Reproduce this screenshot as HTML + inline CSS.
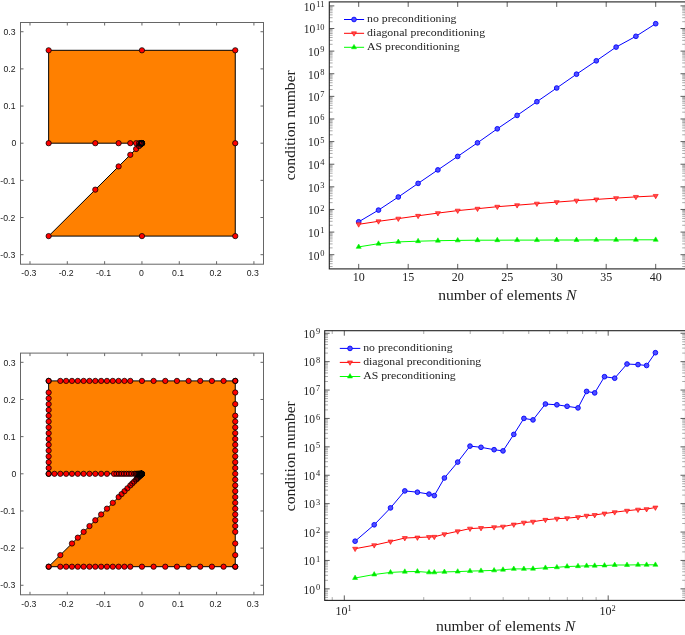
<!DOCTYPE html>
<html><head><meta charset="utf-8"><style>
html,body{margin:0;padding:0;background:#fff;overflow:hidden;}
svg{display:block;will-change:transform;}
.ls{font-family:"Liberation Sans",sans-serif;font-size:8.3px;fill:#1a1a1a;}
.tk{font-family:"Liberation Serif",serif;font-size:12px;fill:#222;}
.lg{font-family:"Liberation Serif",serif;font-size:10.9px;fill:#222;}
.lb{font-family:"Liberation Serif",serif;font-size:14.2px;fill:#222;}
.mf{fill:#ff0000;stroke:none;}
.ms{fill:none;stroke:#000;stroke-width:0.75;}
</style></head><body>
<svg width="685" height="635" viewBox="0 0 685 635">
<g>
<polygon points="48.65,50.3 235.25,50.3 235.25,236.1 48.65,236.1 141.95,143.2 48.65,143.2" fill="#ff8000" stroke="#000" stroke-width="1" stroke-linejoin="miter"/>
<circle class="mf" cx="48.65" cy="50.3" r="2.65"/>
<circle class="mf" cx="48.65" cy="143.2" r="2.65"/>
<circle class="mf" cx="95.3" cy="143.2" r="2.65"/>
<circle class="mf" cx="118.62" cy="143.2" r="2.65"/>
<circle class="mf" cx="130.29" cy="143.2" r="2.65"/>
<circle class="mf" cx="136.12" cy="143.2" r="2.65"/>
<circle class="mf" cx="139.03" cy="143.2" r="2.65"/>
<circle class="mf" cx="140.49" cy="143.2" r="2.65"/>
<circle class="mf" cx="141.22" cy="143.2" r="2.65"/>
<circle class="mf" cx="141.59" cy="143.2" r="2.65"/>
<circle class="mf" cx="141.77" cy="143.2" r="2.65"/>
<circle class="mf" cx="141.86" cy="143.2" r="2.65"/>
<circle class="mf" cx="141.9" cy="143.2" r="2.65"/>
<circle class="mf" cx="141.93" cy="143.2" r="2.65"/>
<circle class="mf" cx="141.94" cy="143.2" r="2.65"/>
<circle class="mf" cx="141.95" cy="143.2" r="2.65"/>
<circle class="mf" cx="141.94" cy="143.21" r="2.65"/>
<circle class="mf" cx="141.93" cy="143.22" r="2.65"/>
<circle class="mf" cx="141.9" cy="143.25" r="2.65"/>
<circle class="mf" cx="141.86" cy="143.29" r="2.65"/>
<circle class="mf" cx="141.77" cy="143.38" r="2.65"/>
<circle class="mf" cx="141.59" cy="143.56" r="2.65"/>
<circle class="mf" cx="141.22" cy="143.93" r="2.65"/>
<circle class="mf" cx="140.49" cy="144.65" r="2.65"/>
<circle class="mf" cx="139.03" cy="146.1" r="2.65"/>
<circle class="mf" cx="136.12" cy="149.01" r="2.65"/>
<circle class="mf" cx="130.29" cy="154.81" r="2.65"/>
<circle class="mf" cx="118.62" cy="166.42" r="2.65"/>
<circle class="mf" cx="95.3" cy="189.65" r="2.65"/>
<circle class="mf" cx="48.65" cy="236.1" r="2.65"/>
<circle class="mf" cx="141.95" cy="236.1" r="2.65"/>
<circle class="mf" cx="235.25" cy="236.1" r="2.65"/>
<circle class="mf" cx="235.25" cy="143.2" r="2.65"/>
<circle class="mf" cx="235.25" cy="50.3" r="2.65"/>
<circle class="mf" cx="141.95" cy="50.3" r="2.65"/>
<circle class="ms" cx="48.65" cy="50.3" r="2.65"/>
<circle class="ms" cx="48.65" cy="143.2" r="2.65"/>
<circle class="ms" cx="95.3" cy="143.2" r="2.65"/>
<circle class="ms" cx="118.62" cy="143.2" r="2.65"/>
<circle class="ms" cx="130.29" cy="143.2" r="2.65"/>
<circle class="ms" cx="136.12" cy="143.2" r="2.65"/>
<circle class="ms" cx="139.03" cy="143.2" r="2.65"/>
<circle class="ms" cx="140.49" cy="143.2" r="2.65"/>
<circle class="ms" cx="141.22" cy="143.2" r="2.65"/>
<circle class="ms" cx="141.59" cy="143.2" r="2.65"/>
<circle class="ms" cx="141.77" cy="143.2" r="2.65"/>
<circle class="ms" cx="141.86" cy="143.2" r="2.65"/>
<circle class="ms" cx="141.9" cy="143.2" r="2.65"/>
<circle class="ms" cx="141.93" cy="143.2" r="2.65"/>
<circle class="ms" cx="141.94" cy="143.2" r="2.65"/>
<circle class="ms" cx="141.95" cy="143.2" r="2.65"/>
<circle class="ms" cx="141.94" cy="143.21" r="2.65"/>
<circle class="ms" cx="141.93" cy="143.22" r="2.65"/>
<circle class="ms" cx="141.9" cy="143.25" r="2.65"/>
<circle class="ms" cx="141.86" cy="143.29" r="2.65"/>
<circle class="ms" cx="141.77" cy="143.38" r="2.65"/>
<circle class="ms" cx="141.59" cy="143.56" r="2.65"/>
<circle class="ms" cx="141.22" cy="143.93" r="2.65"/>
<circle class="ms" cx="140.49" cy="144.65" r="2.65"/>
<circle class="ms" cx="139.03" cy="146.1" r="2.65"/>
<circle class="ms" cx="136.12" cy="149.01" r="2.65"/>
<circle class="ms" cx="130.29" cy="154.81" r="2.65"/>
<circle class="ms" cx="118.62" cy="166.42" r="2.65"/>
<circle class="ms" cx="95.3" cy="189.65" r="2.65"/>
<circle class="ms" cx="48.65" cy="236.1" r="2.65"/>
<circle class="ms" cx="141.95" cy="236.1" r="2.65"/>
<circle class="ms" cx="235.25" cy="236.1" r="2.65"/>
<circle class="ms" cx="235.25" cy="143.2" r="2.65"/>
<circle class="ms" cx="235.25" cy="50.3" r="2.65"/>
<circle class="ms" cx="141.95" cy="50.3" r="2.65"/>
<rect x="20.5" y="22.5" width="243.0" height="241.7" fill="none" stroke="#666" stroke-width="1"/>
<path d="M29.99,264.2v-3M29.99,22.5v3M20.5,254.68h3M263.5,254.68h-3M67.31,264.2v-3M67.31,22.5v3M20.5,217.52h3M263.5,217.52h-3M104.63,264.2v-3M104.63,22.5v3M20.5,180.36h3M263.5,180.36h-3M141.95,264.2v-3M141.95,22.5v3M20.5,143.2h3M263.5,143.2h-3M179.27,264.2v-3M179.27,22.5v3M20.5,106.04h3M263.5,106.04h-3M216.59,264.2v-3M216.59,22.5v3M20.5,68.88h3M263.5,68.88h-3M253.91,264.2v-3M253.91,22.5v3M20.5,31.72h3M263.5,31.72h-3" stroke="#666" stroke-width="1" fill="none"/>
<text x="28.89" y="276.3" text-anchor="middle" class="ls" textLength="15.02" lengthAdjust="spacingAndGlyphs">-0.3</text>
<text x="15.3" y="257.88" text-anchor="end" class="ls" textLength="15.02" lengthAdjust="spacingAndGlyphs">-0.3</text>
<text x="66.21" y="276.3" text-anchor="middle" class="ls" textLength="15.02" lengthAdjust="spacingAndGlyphs">-0.2</text>
<text x="15.3" y="220.72" text-anchor="end" class="ls" textLength="15.02" lengthAdjust="spacingAndGlyphs">-0.2</text>
<text x="103.53" y="276.3" text-anchor="middle" class="ls" textLength="15.02" lengthAdjust="spacingAndGlyphs">-0.1</text>
<text x="15.3" y="183.56" text-anchor="end" class="ls" textLength="15.02" lengthAdjust="spacingAndGlyphs">-0.1</text>
<text x="141.5" y="276.3" text-anchor="middle" class="ls" textLength="4.85" lengthAdjust="spacingAndGlyphs">0</text>
<text x="16.4" y="146.4" text-anchor="end" class="ls" textLength="4.85" lengthAdjust="spacingAndGlyphs">0</text>
<text x="178.17" y="276.3" text-anchor="middle" class="ls" textLength="12.11" lengthAdjust="spacingAndGlyphs">0.1</text>
<text x="15.6" y="109.24" text-anchor="end" class="ls" textLength="12.11" lengthAdjust="spacingAndGlyphs">0.1</text>
<text x="215.49" y="276.3" text-anchor="middle" class="ls" textLength="12.11" lengthAdjust="spacingAndGlyphs">0.2</text>
<text x="15.6" y="72.08" text-anchor="end" class="ls" textLength="12.11" lengthAdjust="spacingAndGlyphs">0.2</text>
<text x="252.81" y="276.3" text-anchor="middle" class="ls" textLength="12.11" lengthAdjust="spacingAndGlyphs">0.3</text>
<text x="15.6" y="34.92" text-anchor="end" class="ls" textLength="12.11" lengthAdjust="spacingAndGlyphs">0.3</text>
<polygon points="48.65,380.9 235.25,380.9 235.25,566.7 48.65,566.7 141.95,473.8 48.65,473.8" fill="#ff8000" stroke="#000" stroke-width="1" stroke-linejoin="miter"/>
<circle class="mf" cx="48.65" cy="380.9" r="2.65"/>
<circle class="mf" cx="48.65" cy="392.51" r="2.65"/>
<circle class="mf" cx="48.65" cy="398.32" r="2.65"/>
<circle class="mf" cx="48.65" cy="404.12" r="2.65"/>
<circle class="mf" cx="48.65" cy="409.93" r="2.65"/>
<circle class="mf" cx="48.65" cy="415.74" r="2.65"/>
<circle class="mf" cx="48.65" cy="421.54" r="2.65"/>
<circle class="mf" cx="48.65" cy="427.35" r="2.65"/>
<circle class="mf" cx="48.65" cy="433.16" r="2.65"/>
<circle class="mf" cx="48.65" cy="438.96" r="2.65"/>
<circle class="mf" cx="48.65" cy="444.77" r="2.65"/>
<circle class="mf" cx="48.65" cy="450.57" r="2.65"/>
<circle class="mf" cx="48.65" cy="456.38" r="2.65"/>
<circle class="mf" cx="48.65" cy="462.19" r="2.65"/>
<circle class="mf" cx="48.65" cy="467.99" r="2.65"/>
<circle class="mf" cx="48.65" cy="473.8" r="2.65"/>
<circle class="mf" cx="48.65" cy="473.8" r="2.65"/>
<circle class="mf" cx="54.48" cy="473.8" r="2.65"/>
<circle class="mf" cx="60.31" cy="473.8" r="2.65"/>
<circle class="mf" cx="66.14" cy="473.8" r="2.65"/>
<circle class="mf" cx="71.97" cy="473.8" r="2.65"/>
<circle class="mf" cx="77.81" cy="473.8" r="2.65"/>
<circle class="mf" cx="83.64" cy="473.8" r="2.65"/>
<circle class="mf" cx="89.47" cy="473.8" r="2.65"/>
<circle class="mf" cx="95.3" cy="473.8" r="2.65"/>
<circle class="mf" cx="101.13" cy="473.8" r="2.65"/>
<circle class="mf" cx="106.96" cy="473.8" r="2.65"/>
<circle class="mf" cx="114" cy="473.8" r="2.65"/>
<circle class="mf" cx="116.5" cy="473.8" r="2.65"/>
<circle class="mf" cx="119" cy="473.8" r="2.65"/>
<circle class="mf" cx="121.5" cy="473.8" r="2.65"/>
<circle class="mf" cx="124" cy="473.8" r="2.65"/>
<circle class="mf" cx="126.5" cy="473.8" r="2.65"/>
<circle class="mf" cx="129" cy="473.8" r="2.65"/>
<circle class="mf" cx="131.5" cy="473.8" r="2.65"/>
<circle class="mf" cx="134.49" cy="473.8" r="2.65"/>
<circle class="mf" cx="135.98" cy="473.8" r="2.65"/>
<circle class="mf" cx="137.17" cy="473.8" r="2.65"/>
<circle class="mf" cx="138.13" cy="473.8" r="2.65"/>
<circle class="mf" cx="138.89" cy="473.8" r="2.65"/>
<circle class="mf" cx="139.5" cy="473.8" r="2.65"/>
<circle class="mf" cx="139.99" cy="473.8" r="2.65"/>
<circle class="mf" cx="140.38" cy="473.8" r="2.65"/>
<circle class="mf" cx="140.7" cy="473.8" r="2.65"/>
<circle class="mf" cx="140.95" cy="473.8" r="2.65"/>
<circle class="mf" cx="141.15" cy="473.8" r="2.65"/>
<circle class="mf" cx="141.31" cy="473.8" r="2.65"/>
<circle class="mf" cx="141.44" cy="473.8" r="2.65"/>
<circle class="mf" cx="141.54" cy="473.8" r="2.65"/>
<circle class="mf" cx="141.62" cy="473.8" r="2.65"/>
<circle class="mf" cx="141.69" cy="473.8" r="2.65"/>
<circle class="mf" cx="141.74" cy="473.8" r="2.65"/>
<circle class="mf" cx="141.78" cy="473.8" r="2.65"/>
<circle class="mf" cx="141.82" cy="473.8" r="2.65"/>
<circle class="mf" cx="141.95" cy="473.8" r="2.65"/>
<circle class="mf" cx="48.65" cy="566.7" r="2.65"/>
<circle class="mf" cx="60.31" cy="555.09" r="2.65"/>
<circle class="mf" cx="71.97" cy="543.48" r="2.65"/>
<circle class="mf" cx="77.81" cy="537.67" r="2.65"/>
<circle class="mf" cx="83.64" cy="531.86" r="2.65"/>
<circle class="mf" cx="89.47" cy="526.06" r="2.65"/>
<circle class="mf" cx="95.3" cy="520.25" r="2.65"/>
<circle class="mf" cx="101.13" cy="514.44" r="2.65"/>
<circle class="mf" cx="106.96" cy="508.64" r="2.65"/>
<circle class="mf" cx="112.79" cy="502.83" r="2.65"/>
<circle class="mf" cx="118.62" cy="497.03" r="2.65"/>
<circle class="mf" cx="121.54" cy="494.12" r="2.65"/>
<circle class="mf" cx="124.46" cy="491.22" r="2.65"/>
<circle class="mf" cx="127.37" cy="488.32" r="2.65"/>
<circle class="mf" cx="130.29" cy="485.41" r="2.65"/>
<circle class="mf" cx="132.25" cy="483.46" r="2.65"/>
<circle class="mf" cx="134.19" cy="481.53" r="2.65"/>
<circle class="mf" cx="136.13" cy="479.6" r="2.65"/>
<circle class="mf" cx="136.98" cy="478.75" r="2.65"/>
<circle class="mf" cx="137.97" cy="477.76" r="2.65"/>
<circle class="mf" cx="138.77" cy="476.97" r="2.65"/>
<circle class="mf" cx="139.4" cy="476.33" r="2.65"/>
<circle class="mf" cx="139.91" cy="475.83" r="2.65"/>
<circle class="mf" cx="140.32" cy="475.42" r="2.65"/>
<circle class="mf" cx="140.65" cy="475.1" r="2.65"/>
<circle class="mf" cx="140.91" cy="474.84" r="2.65"/>
<circle class="mf" cx="141.12" cy="474.63" r="2.65"/>
<circle class="mf" cx="141.28" cy="474.46" r="2.65"/>
<circle class="mf" cx="141.42" cy="474.33" r="2.65"/>
<circle class="mf" cx="141.52" cy="474.23" r="2.65"/>
<circle class="mf" cx="141.61" cy="474.14" r="2.65"/>
<circle class="mf" cx="141.68" cy="474.07" r="2.65"/>
<circle class="mf" cx="141.73" cy="474.02" r="2.65"/>
<circle class="mf" cx="141.78" cy="473.97" r="2.65"/>
<circle class="mf" cx="141.81" cy="473.94" r="2.65"/>
<circle class="mf" cx="141.84" cy="473.91" r="2.65"/>
<circle class="mf" cx="48.65" cy="566.7" r="2.65"/>
<circle class="mf" cx="60.31" cy="566.7" r="2.65"/>
<circle class="mf" cx="66.14" cy="566.7" r="2.65"/>
<circle class="mf" cx="71.97" cy="566.7" r="2.65"/>
<circle class="mf" cx="77.81" cy="566.7" r="2.65"/>
<circle class="mf" cx="83.64" cy="566.7" r="2.65"/>
<circle class="mf" cx="89.47" cy="566.7" r="2.65"/>
<circle class="mf" cx="95.3" cy="566.7" r="2.65"/>
<circle class="mf" cx="101.13" cy="566.7" r="2.65"/>
<circle class="mf" cx="106.96" cy="566.7" r="2.65"/>
<circle class="mf" cx="112.79" cy="566.7" r="2.65"/>
<circle class="mf" cx="118.62" cy="566.7" r="2.65"/>
<circle class="mf" cx="124.46" cy="566.7" r="2.65"/>
<circle class="mf" cx="130.29" cy="566.7" r="2.65"/>
<circle class="mf" cx="141.95" cy="566.7" r="2.65"/>
<circle class="mf" cx="153.61" cy="566.7" r="2.65"/>
<circle class="mf" cx="165.27" cy="566.7" r="2.65"/>
<circle class="mf" cx="176.94" cy="566.7" r="2.65"/>
<circle class="mf" cx="188.6" cy="566.7" r="2.65"/>
<circle class="mf" cx="200.26" cy="566.7" r="2.65"/>
<circle class="mf" cx="211.92" cy="566.7" r="2.65"/>
<circle class="mf" cx="223.59" cy="566.7" r="2.65"/>
<circle class="mf" cx="235.25" cy="566.7" r="2.65"/>
<circle class="mf" cx="235.25" cy="566.7" r="2.65"/>
<circle class="mf" cx="235.25" cy="555.09" r="2.65"/>
<circle class="mf" cx="235.25" cy="543.48" r="2.65"/>
<circle class="mf" cx="235.25" cy="531.86" r="2.65"/>
<circle class="mf" cx="235.25" cy="526.06" r="2.65"/>
<circle class="mf" cx="235.25" cy="520.25" r="2.65"/>
<circle class="mf" cx="235.25" cy="514.44" r="2.65"/>
<circle class="mf" cx="235.25" cy="508.64" r="2.65"/>
<circle class="mf" cx="235.25" cy="502.83" r="2.65"/>
<circle class="mf" cx="235.25" cy="497.03" r="2.65"/>
<circle class="mf" cx="235.25" cy="491.22" r="2.65"/>
<circle class="mf" cx="235.25" cy="485.41" r="2.65"/>
<circle class="mf" cx="235.25" cy="479.61" r="2.65"/>
<circle class="mf" cx="235.25" cy="473.8" r="2.65"/>
<circle class="mf" cx="235.25" cy="467.99" r="2.65"/>
<circle class="mf" cx="235.25" cy="462.19" r="2.65"/>
<circle class="mf" cx="235.25" cy="456.38" r="2.65"/>
<circle class="mf" cx="235.25" cy="450.57" r="2.65"/>
<circle class="mf" cx="235.25" cy="444.77" r="2.65"/>
<circle class="mf" cx="235.25" cy="438.96" r="2.65"/>
<circle class="mf" cx="235.25" cy="433.16" r="2.65"/>
<circle class="mf" cx="235.25" cy="427.35" r="2.65"/>
<circle class="mf" cx="235.25" cy="421.54" r="2.65"/>
<circle class="mf" cx="235.25" cy="415.74" r="2.65"/>
<circle class="mf" cx="235.25" cy="404.12" r="2.65"/>
<circle class="mf" cx="235.25" cy="392.51" r="2.65"/>
<circle class="mf" cx="235.25" cy="380.9" r="2.65"/>
<circle class="mf" cx="235.25" cy="380.9" r="2.65"/>
<circle class="mf" cx="223.59" cy="380.9" r="2.65"/>
<circle class="mf" cx="211.92" cy="380.9" r="2.65"/>
<circle class="mf" cx="200.26" cy="380.9" r="2.65"/>
<circle class="mf" cx="188.6" cy="380.9" r="2.65"/>
<circle class="mf" cx="176.94" cy="380.9" r="2.65"/>
<circle class="mf" cx="165.27" cy="380.9" r="2.65"/>
<circle class="mf" cx="153.61" cy="380.9" r="2.65"/>
<circle class="mf" cx="141.95" cy="380.9" r="2.65"/>
<circle class="mf" cx="130.29" cy="380.9" r="2.65"/>
<circle class="mf" cx="124.46" cy="380.9" r="2.65"/>
<circle class="mf" cx="118.62" cy="380.9" r="2.65"/>
<circle class="mf" cx="112.79" cy="380.9" r="2.65"/>
<circle class="mf" cx="106.96" cy="380.9" r="2.65"/>
<circle class="mf" cx="101.13" cy="380.9" r="2.65"/>
<circle class="mf" cx="95.3" cy="380.9" r="2.65"/>
<circle class="mf" cx="89.47" cy="380.9" r="2.65"/>
<circle class="mf" cx="83.64" cy="380.9" r="2.65"/>
<circle class="mf" cx="77.81" cy="380.9" r="2.65"/>
<circle class="mf" cx="71.97" cy="380.9" r="2.65"/>
<circle class="mf" cx="66.14" cy="380.9" r="2.65"/>
<circle class="mf" cx="60.31" cy="380.9" r="2.65"/>
<circle class="mf" cx="48.65" cy="380.9" r="2.65"/>
<circle class="ms" cx="48.65" cy="380.9" r="2.65"/>
<circle class="ms" cx="48.65" cy="392.51" r="2.65"/>
<circle class="ms" cx="48.65" cy="398.32" r="2.65"/>
<circle class="ms" cx="48.65" cy="404.12" r="2.65"/>
<circle class="ms" cx="48.65" cy="409.93" r="2.65"/>
<circle class="ms" cx="48.65" cy="415.74" r="2.65"/>
<circle class="ms" cx="48.65" cy="421.54" r="2.65"/>
<circle class="ms" cx="48.65" cy="427.35" r="2.65"/>
<circle class="ms" cx="48.65" cy="433.16" r="2.65"/>
<circle class="ms" cx="48.65" cy="438.96" r="2.65"/>
<circle class="ms" cx="48.65" cy="444.77" r="2.65"/>
<circle class="ms" cx="48.65" cy="450.57" r="2.65"/>
<circle class="ms" cx="48.65" cy="456.38" r="2.65"/>
<circle class="ms" cx="48.65" cy="462.19" r="2.65"/>
<circle class="ms" cx="48.65" cy="467.99" r="2.65"/>
<circle class="ms" cx="48.65" cy="473.8" r="2.65"/>
<circle class="ms" cx="48.65" cy="473.8" r="2.65"/>
<circle class="ms" cx="54.48" cy="473.8" r="2.65"/>
<circle class="ms" cx="60.31" cy="473.8" r="2.65"/>
<circle class="ms" cx="66.14" cy="473.8" r="2.65"/>
<circle class="ms" cx="71.97" cy="473.8" r="2.65"/>
<circle class="ms" cx="77.81" cy="473.8" r="2.65"/>
<circle class="ms" cx="83.64" cy="473.8" r="2.65"/>
<circle class="ms" cx="89.47" cy="473.8" r="2.65"/>
<circle class="ms" cx="95.3" cy="473.8" r="2.65"/>
<circle class="ms" cx="101.13" cy="473.8" r="2.65"/>
<circle class="ms" cx="106.96" cy="473.8" r="2.65"/>
<circle class="ms" cx="114" cy="473.8" r="2.65"/>
<circle class="ms" cx="116.5" cy="473.8" r="2.65"/>
<circle class="ms" cx="119" cy="473.8" r="2.65"/>
<circle class="ms" cx="121.5" cy="473.8" r="2.65"/>
<circle class="ms" cx="124" cy="473.8" r="2.65"/>
<circle class="ms" cx="126.5" cy="473.8" r="2.65"/>
<circle class="ms" cx="129" cy="473.8" r="2.65"/>
<circle class="ms" cx="131.5" cy="473.8" r="2.65"/>
<circle class="ms" cx="134.49" cy="473.8" r="2.65"/>
<circle class="ms" cx="135.98" cy="473.8" r="2.65"/>
<circle class="ms" cx="137.17" cy="473.8" r="2.65"/>
<circle class="ms" cx="138.13" cy="473.8" r="2.65"/>
<circle class="ms" cx="138.89" cy="473.8" r="2.65"/>
<circle class="ms" cx="139.5" cy="473.8" r="2.65"/>
<circle class="ms" cx="139.99" cy="473.8" r="2.65"/>
<circle class="ms" cx="140.38" cy="473.8" r="2.65"/>
<circle class="ms" cx="140.7" cy="473.8" r="2.65"/>
<circle class="ms" cx="140.95" cy="473.8" r="2.65"/>
<circle class="ms" cx="141.15" cy="473.8" r="2.65"/>
<circle class="ms" cx="141.31" cy="473.8" r="2.65"/>
<circle class="ms" cx="141.44" cy="473.8" r="2.65"/>
<circle class="ms" cx="141.54" cy="473.8" r="2.65"/>
<circle class="ms" cx="141.62" cy="473.8" r="2.65"/>
<circle class="ms" cx="141.69" cy="473.8" r="2.65"/>
<circle class="ms" cx="141.74" cy="473.8" r="2.65"/>
<circle class="ms" cx="141.78" cy="473.8" r="2.65"/>
<circle class="ms" cx="141.82" cy="473.8" r="2.65"/>
<circle class="ms" cx="141.95" cy="473.8" r="2.65"/>
<circle class="ms" cx="48.65" cy="566.7" r="2.65"/>
<circle class="ms" cx="60.31" cy="555.09" r="2.65"/>
<circle class="ms" cx="71.97" cy="543.48" r="2.65"/>
<circle class="ms" cx="77.81" cy="537.67" r="2.65"/>
<circle class="ms" cx="83.64" cy="531.86" r="2.65"/>
<circle class="ms" cx="89.47" cy="526.06" r="2.65"/>
<circle class="ms" cx="95.3" cy="520.25" r="2.65"/>
<circle class="ms" cx="101.13" cy="514.44" r="2.65"/>
<circle class="ms" cx="106.96" cy="508.64" r="2.65"/>
<circle class="ms" cx="112.79" cy="502.83" r="2.65"/>
<circle class="ms" cx="118.62" cy="497.03" r="2.65"/>
<circle class="ms" cx="121.54" cy="494.12" r="2.65"/>
<circle class="ms" cx="124.46" cy="491.22" r="2.65"/>
<circle class="ms" cx="127.37" cy="488.32" r="2.65"/>
<circle class="ms" cx="130.29" cy="485.41" r="2.65"/>
<circle class="ms" cx="132.25" cy="483.46" r="2.65"/>
<circle class="ms" cx="134.19" cy="481.53" r="2.65"/>
<circle class="ms" cx="136.13" cy="479.6" r="2.65"/>
<circle class="ms" cx="136.98" cy="478.75" r="2.65"/>
<circle class="ms" cx="137.97" cy="477.76" r="2.65"/>
<circle class="ms" cx="138.77" cy="476.97" r="2.65"/>
<circle class="ms" cx="139.4" cy="476.33" r="2.65"/>
<circle class="ms" cx="139.91" cy="475.83" r="2.65"/>
<circle class="ms" cx="140.32" cy="475.42" r="2.65"/>
<circle class="ms" cx="140.65" cy="475.1" r="2.65"/>
<circle class="ms" cx="140.91" cy="474.84" r="2.65"/>
<circle class="ms" cx="141.12" cy="474.63" r="2.65"/>
<circle class="ms" cx="141.28" cy="474.46" r="2.65"/>
<circle class="ms" cx="141.42" cy="474.33" r="2.65"/>
<circle class="ms" cx="141.52" cy="474.23" r="2.65"/>
<circle class="ms" cx="141.61" cy="474.14" r="2.65"/>
<circle class="ms" cx="141.68" cy="474.07" r="2.65"/>
<circle class="ms" cx="141.73" cy="474.02" r="2.65"/>
<circle class="ms" cx="141.78" cy="473.97" r="2.65"/>
<circle class="ms" cx="141.81" cy="473.94" r="2.65"/>
<circle class="ms" cx="141.84" cy="473.91" r="2.65"/>
<circle class="ms" cx="48.65" cy="566.7" r="2.65"/>
<circle class="ms" cx="60.31" cy="566.7" r="2.65"/>
<circle class="ms" cx="66.14" cy="566.7" r="2.65"/>
<circle class="ms" cx="71.97" cy="566.7" r="2.65"/>
<circle class="ms" cx="77.81" cy="566.7" r="2.65"/>
<circle class="ms" cx="83.64" cy="566.7" r="2.65"/>
<circle class="ms" cx="89.47" cy="566.7" r="2.65"/>
<circle class="ms" cx="95.3" cy="566.7" r="2.65"/>
<circle class="ms" cx="101.13" cy="566.7" r="2.65"/>
<circle class="ms" cx="106.96" cy="566.7" r="2.65"/>
<circle class="ms" cx="112.79" cy="566.7" r="2.65"/>
<circle class="ms" cx="118.62" cy="566.7" r="2.65"/>
<circle class="ms" cx="124.46" cy="566.7" r="2.65"/>
<circle class="ms" cx="130.29" cy="566.7" r="2.65"/>
<circle class="ms" cx="141.95" cy="566.7" r="2.65"/>
<circle class="ms" cx="153.61" cy="566.7" r="2.65"/>
<circle class="ms" cx="165.27" cy="566.7" r="2.65"/>
<circle class="ms" cx="176.94" cy="566.7" r="2.65"/>
<circle class="ms" cx="188.6" cy="566.7" r="2.65"/>
<circle class="ms" cx="200.26" cy="566.7" r="2.65"/>
<circle class="ms" cx="211.92" cy="566.7" r="2.65"/>
<circle class="ms" cx="223.59" cy="566.7" r="2.65"/>
<circle class="ms" cx="235.25" cy="566.7" r="2.65"/>
<circle class="ms" cx="235.25" cy="566.7" r="2.65"/>
<circle class="ms" cx="235.25" cy="555.09" r="2.65"/>
<circle class="ms" cx="235.25" cy="543.48" r="2.65"/>
<circle class="ms" cx="235.25" cy="531.86" r="2.65"/>
<circle class="ms" cx="235.25" cy="526.06" r="2.65"/>
<circle class="ms" cx="235.25" cy="520.25" r="2.65"/>
<circle class="ms" cx="235.25" cy="514.44" r="2.65"/>
<circle class="ms" cx="235.25" cy="508.64" r="2.65"/>
<circle class="ms" cx="235.25" cy="502.83" r="2.65"/>
<circle class="ms" cx="235.25" cy="497.03" r="2.65"/>
<circle class="ms" cx="235.25" cy="491.22" r="2.65"/>
<circle class="ms" cx="235.25" cy="485.41" r="2.65"/>
<circle class="ms" cx="235.25" cy="479.61" r="2.65"/>
<circle class="ms" cx="235.25" cy="473.8" r="2.65"/>
<circle class="ms" cx="235.25" cy="467.99" r="2.65"/>
<circle class="ms" cx="235.25" cy="462.19" r="2.65"/>
<circle class="ms" cx="235.25" cy="456.38" r="2.65"/>
<circle class="ms" cx="235.25" cy="450.57" r="2.65"/>
<circle class="ms" cx="235.25" cy="444.77" r="2.65"/>
<circle class="ms" cx="235.25" cy="438.96" r="2.65"/>
<circle class="ms" cx="235.25" cy="433.16" r="2.65"/>
<circle class="ms" cx="235.25" cy="427.35" r="2.65"/>
<circle class="ms" cx="235.25" cy="421.54" r="2.65"/>
<circle class="ms" cx="235.25" cy="415.74" r="2.65"/>
<circle class="ms" cx="235.25" cy="404.12" r="2.65"/>
<circle class="ms" cx="235.25" cy="392.51" r="2.65"/>
<circle class="ms" cx="235.25" cy="380.9" r="2.65"/>
<circle class="ms" cx="235.25" cy="380.9" r="2.65"/>
<circle class="ms" cx="223.59" cy="380.9" r="2.65"/>
<circle class="ms" cx="211.92" cy="380.9" r="2.65"/>
<circle class="ms" cx="200.26" cy="380.9" r="2.65"/>
<circle class="ms" cx="188.6" cy="380.9" r="2.65"/>
<circle class="ms" cx="176.94" cy="380.9" r="2.65"/>
<circle class="ms" cx="165.27" cy="380.9" r="2.65"/>
<circle class="ms" cx="153.61" cy="380.9" r="2.65"/>
<circle class="ms" cx="141.95" cy="380.9" r="2.65"/>
<circle class="ms" cx="130.29" cy="380.9" r="2.65"/>
<circle class="ms" cx="124.46" cy="380.9" r="2.65"/>
<circle class="ms" cx="118.62" cy="380.9" r="2.65"/>
<circle class="ms" cx="112.79" cy="380.9" r="2.65"/>
<circle class="ms" cx="106.96" cy="380.9" r="2.65"/>
<circle class="ms" cx="101.13" cy="380.9" r="2.65"/>
<circle class="ms" cx="95.3" cy="380.9" r="2.65"/>
<circle class="ms" cx="89.47" cy="380.9" r="2.65"/>
<circle class="ms" cx="83.64" cy="380.9" r="2.65"/>
<circle class="ms" cx="77.81" cy="380.9" r="2.65"/>
<circle class="ms" cx="71.97" cy="380.9" r="2.65"/>
<circle class="ms" cx="66.14" cy="380.9" r="2.65"/>
<circle class="ms" cx="60.31" cy="380.9" r="2.65"/>
<circle class="ms" cx="48.65" cy="380.9" r="2.65"/>
<rect x="20.5" y="353.1" width="243.0" height="241.69999999999993" fill="none" stroke="#666" stroke-width="1"/>
<path d="M29.99,594.8v-3M29.99,353.1v3M20.5,585.28h3M263.5,585.28h-3M67.31,594.8v-3M67.31,353.1v3M20.5,548.12h3M263.5,548.12h-3M104.63,594.8v-3M104.63,353.1v3M20.5,510.96h3M263.5,510.96h-3M141.95,594.8v-3M141.95,353.1v3M20.5,473.8h3M263.5,473.8h-3M179.27,594.8v-3M179.27,353.1v3M20.5,436.64h3M263.5,436.64h-3M216.59,594.8v-3M216.59,353.1v3M20.5,399.48h3M263.5,399.48h-3M253.91,594.8v-3M253.91,353.1v3M20.5,362.32h3M263.5,362.32h-3" stroke="#666" stroke-width="1" fill="none"/>
<text x="28.89" y="606.9" text-anchor="middle" class="ls" textLength="15.02" lengthAdjust="spacingAndGlyphs">-0.3</text>
<text x="15.3" y="588.48" text-anchor="end" class="ls" textLength="15.02" lengthAdjust="spacingAndGlyphs">-0.3</text>
<text x="66.21" y="606.9" text-anchor="middle" class="ls" textLength="15.02" lengthAdjust="spacingAndGlyphs">-0.2</text>
<text x="15.3" y="551.32" text-anchor="end" class="ls" textLength="15.02" lengthAdjust="spacingAndGlyphs">-0.2</text>
<text x="103.53" y="606.9" text-anchor="middle" class="ls" textLength="15.02" lengthAdjust="spacingAndGlyphs">-0.1</text>
<text x="15.3" y="514.16" text-anchor="end" class="ls" textLength="15.02" lengthAdjust="spacingAndGlyphs">-0.1</text>
<text x="141.5" y="606.9" text-anchor="middle" class="ls" textLength="4.85" lengthAdjust="spacingAndGlyphs">0</text>
<text x="16.4" y="477" text-anchor="end" class="ls" textLength="4.85" lengthAdjust="spacingAndGlyphs">0</text>
<text x="178.17" y="606.9" text-anchor="middle" class="ls" textLength="12.11" lengthAdjust="spacingAndGlyphs">0.1</text>
<text x="15.6" y="439.84" text-anchor="end" class="ls" textLength="12.11" lengthAdjust="spacingAndGlyphs">0.1</text>
<text x="215.49" y="606.9" text-anchor="middle" class="ls" textLength="12.11" lengthAdjust="spacingAndGlyphs">0.2</text>
<text x="15.6" y="402.68" text-anchor="end" class="ls" textLength="12.11" lengthAdjust="spacingAndGlyphs">0.2</text>
<text x="252.81" y="606.9" text-anchor="middle" class="ls" textLength="12.11" lengthAdjust="spacingAndGlyphs">0.3</text>
<text x="15.6" y="365.52" text-anchor="end" class="ls" textLength="12.11" lengthAdjust="spacingAndGlyphs">0.3</text>
</g>
<polyline points="358.7,221.8 378.5,210.1 398.3,197 418.1,183.4 437.9,169.9 457.7,156.4 477.5,142.8 497.3,128.8 517.1,115.4 536.9,101.7 556.7,88 576.5,74.2 596.3,60.8 616.1,47.1 635.9,36.3 655.7,23.7" fill="none" stroke="#0000ff" stroke-width="1"/>
<circle cx="358.7" cy="221.8" r="2.35" fill="#5050ff" stroke="#0000ff" stroke-width="0.9"/>
<circle cx="378.5" cy="210.1" r="2.35" fill="#5050ff" stroke="#0000ff" stroke-width="0.9"/>
<circle cx="398.3" cy="197" r="2.35" fill="#5050ff" stroke="#0000ff" stroke-width="0.9"/>
<circle cx="418.1" cy="183.4" r="2.35" fill="#5050ff" stroke="#0000ff" stroke-width="0.9"/>
<circle cx="437.9" cy="169.9" r="2.35" fill="#5050ff" stroke="#0000ff" stroke-width="0.9"/>
<circle cx="457.7" cy="156.4" r="2.35" fill="#5050ff" stroke="#0000ff" stroke-width="0.9"/>
<circle cx="477.5" cy="142.8" r="2.35" fill="#5050ff" stroke="#0000ff" stroke-width="0.9"/>
<circle cx="497.3" cy="128.8" r="2.35" fill="#5050ff" stroke="#0000ff" stroke-width="0.9"/>
<circle cx="517.1" cy="115.4" r="2.35" fill="#5050ff" stroke="#0000ff" stroke-width="0.9"/>
<circle cx="536.9" cy="101.7" r="2.35" fill="#5050ff" stroke="#0000ff" stroke-width="0.9"/>
<circle cx="556.7" cy="88" r="2.35" fill="#5050ff" stroke="#0000ff" stroke-width="0.9"/>
<circle cx="576.5" cy="74.2" r="2.35" fill="#5050ff" stroke="#0000ff" stroke-width="0.9"/>
<circle cx="596.3" cy="60.8" r="2.35" fill="#5050ff" stroke="#0000ff" stroke-width="0.9"/>
<circle cx="616.1" cy="47.1" r="2.35" fill="#5050ff" stroke="#0000ff" stroke-width="0.9"/>
<circle cx="635.9" cy="36.3" r="2.35" fill="#5050ff" stroke="#0000ff" stroke-width="0.9"/>
<circle cx="655.7" cy="23.7" r="2.35" fill="#5050ff" stroke="#0000ff" stroke-width="0.9"/>
<polyline points="358.7,224.3 378.5,221.3 398.3,218.6 418.1,215.8 437.9,213.1 457.7,210.6 477.5,208.7 497.3,206.7 517.1,205.2 536.9,203.6 556.7,202.1 576.5,200.6 596.3,199.4 616.1,198.1 635.9,196.9 655.7,195.9" fill="none" stroke="#ff0000" stroke-width="1"/>
<polygon points="358.7,227.2 356.19,222.85 361.21,222.85" fill="#ff4d4d" stroke="#ff0000" stroke-width="0.6"/>
<polygon points="378.5,224.2 375.99,219.85 381.01,219.85" fill="#ff4d4d" stroke="#ff0000" stroke-width="0.6"/>
<polygon points="398.3,221.5 395.79,217.15 400.81,217.15" fill="#ff4d4d" stroke="#ff0000" stroke-width="0.6"/>
<polygon points="418.1,218.7 415.59,214.35 420.61,214.35" fill="#ff4d4d" stroke="#ff0000" stroke-width="0.6"/>
<polygon points="437.9,216 435.39,211.65 440.41,211.65" fill="#ff4d4d" stroke="#ff0000" stroke-width="0.6"/>
<polygon points="457.7,213.5 455.19,209.15 460.21,209.15" fill="#ff4d4d" stroke="#ff0000" stroke-width="0.6"/>
<polygon points="477.5,211.6 474.99,207.25 480.01,207.25" fill="#ff4d4d" stroke="#ff0000" stroke-width="0.6"/>
<polygon points="497.3,209.6 494.79,205.25 499.81,205.25" fill="#ff4d4d" stroke="#ff0000" stroke-width="0.6"/>
<polygon points="517.1,208.1 514.59,203.75 519.61,203.75" fill="#ff4d4d" stroke="#ff0000" stroke-width="0.6"/>
<polygon points="536.9,206.5 534.39,202.15 539.41,202.15" fill="#ff4d4d" stroke="#ff0000" stroke-width="0.6"/>
<polygon points="556.7,205 554.19,200.65 559.21,200.65" fill="#ff4d4d" stroke="#ff0000" stroke-width="0.6"/>
<polygon points="576.5,203.5 573.99,199.15 579.01,199.15" fill="#ff4d4d" stroke="#ff0000" stroke-width="0.6"/>
<polygon points="596.3,202.3 593.79,197.95 598.81,197.95" fill="#ff4d4d" stroke="#ff0000" stroke-width="0.6"/>
<polygon points="616.1,201 613.59,196.65 618.61,196.65" fill="#ff4d4d" stroke="#ff0000" stroke-width="0.6"/>
<polygon points="635.9,199.8 633.39,195.45 638.41,195.45" fill="#ff4d4d" stroke="#ff0000" stroke-width="0.6"/>
<polygon points="655.7,198.8 653.19,194.45 658.21,194.45" fill="#ff4d4d" stroke="#ff0000" stroke-width="0.6"/>
<polyline points="358.7,246.9 378.5,243.7 398.3,241.9 418.1,241.2 437.9,240.7 457.7,240.4 477.5,240.2 497.3,240.2 517.1,240.1 536.9,240.1 556.7,240 576.5,240 596.3,239.9 616.1,239.9 635.9,239.8 655.7,239.8" fill="none" stroke="#00ff00" stroke-width="1"/>
<polygon points="358.7,244 356.19,248.35 361.21,248.35" fill="#00e000" stroke="#00ff00" stroke-width="0.6"/>
<polygon points="378.5,240.8 375.99,245.15 381.01,245.15" fill="#00e000" stroke="#00ff00" stroke-width="0.6"/>
<polygon points="398.3,239 395.79,243.35 400.81,243.35" fill="#00e000" stroke="#00ff00" stroke-width="0.6"/>
<polygon points="418.1,238.3 415.59,242.65 420.61,242.65" fill="#00e000" stroke="#00ff00" stroke-width="0.6"/>
<polygon points="437.9,237.8 435.39,242.15 440.41,242.15" fill="#00e000" stroke="#00ff00" stroke-width="0.6"/>
<polygon points="457.7,237.5 455.19,241.85 460.21,241.85" fill="#00e000" stroke="#00ff00" stroke-width="0.6"/>
<polygon points="477.5,237.3 474.99,241.65 480.01,241.65" fill="#00e000" stroke="#00ff00" stroke-width="0.6"/>
<polygon points="497.3,237.3 494.79,241.65 499.81,241.65" fill="#00e000" stroke="#00ff00" stroke-width="0.6"/>
<polygon points="517.1,237.2 514.59,241.55 519.61,241.55" fill="#00e000" stroke="#00ff00" stroke-width="0.6"/>
<polygon points="536.9,237.2 534.39,241.55 539.41,241.55" fill="#00e000" stroke="#00ff00" stroke-width="0.6"/>
<polygon points="556.7,237.1 554.19,241.45 559.21,241.45" fill="#00e000" stroke="#00ff00" stroke-width="0.6"/>
<polygon points="576.5,237.1 573.99,241.45 579.01,241.45" fill="#00e000" stroke="#00ff00" stroke-width="0.6"/>
<polygon points="596.3,237 593.79,241.35 598.81,241.35" fill="#00e000" stroke="#00ff00" stroke-width="0.6"/>
<polygon points="616.1,237 613.59,241.35 618.61,241.35" fill="#00e000" stroke="#00ff00" stroke-width="0.6"/>
<polygon points="635.9,236.9 633.39,241.25 638.41,241.25" fill="#00e000" stroke="#00ff00" stroke-width="0.6"/>
<polygon points="655.7,236.9 653.19,241.25 658.21,241.25" fill="#00e000" stroke="#00ff00" stroke-width="0.6"/>
<path d="M329.3,266.53h3.3M685.5,266.53h-3.3M329.3,263.7h3.3M685.5,263.7h-3.3M329.3,261.51h3.3M685.5,261.51h-3.3M329.3,259.72h3.3M685.5,259.72h-3.3M329.3,258.2h3.3M685.5,258.2h-3.3M329.3,256.89h3.3M685.5,256.89h-3.3M329.3,255.74h3.3M685.5,255.74h-3.3M329.3,247.89h3.3M685.5,247.89h-3.3M329.3,243.91h3.3M685.5,243.91h-3.3M329.3,241.08h3.3M685.5,241.08h-3.3M329.3,238.89h3.3M685.5,238.89h-3.3M329.3,237.1h3.3M685.5,237.1h-3.3M329.3,235.58h3.3M685.5,235.58h-3.3M329.3,234.27h3.3M685.5,234.27h-3.3M329.3,233.12h3.3M685.5,233.12h-3.3M329.3,225.27h3.3M685.5,225.27h-3.3M329.3,221.29h3.3M685.5,221.29h-3.3M329.3,218.46h3.3M685.5,218.46h-3.3M329.3,216.27h3.3M685.5,216.27h-3.3M329.3,214.48h3.3M685.5,214.48h-3.3M329.3,212.96h3.3M685.5,212.96h-3.3M329.3,211.65h3.3M685.5,211.65h-3.3M329.3,210.5h3.3M685.5,210.5h-3.3M329.3,202.65h3.3M685.5,202.65h-3.3M329.3,198.67h3.3M685.5,198.67h-3.3M329.3,195.84h3.3M685.5,195.84h-3.3M329.3,193.65h3.3M685.5,193.65h-3.3M329.3,191.86h3.3M685.5,191.86h-3.3M329.3,190.34h3.3M685.5,190.34h-3.3M329.3,189.03h3.3M685.5,189.03h-3.3M329.3,187.88h3.3M685.5,187.88h-3.3M329.3,180.03h3.3M685.5,180.03h-3.3M329.3,176.05h3.3M685.5,176.05h-3.3M329.3,173.22h3.3M685.5,173.22h-3.3M329.3,171.03h3.3M685.5,171.03h-3.3M329.3,169.24h3.3M685.5,169.24h-3.3M329.3,167.72h3.3M685.5,167.72h-3.3M329.3,166.41h3.3M685.5,166.41h-3.3M329.3,165.26h3.3M685.5,165.26h-3.3M329.3,157.41h3.3M685.5,157.41h-3.3M329.3,153.43h3.3M685.5,153.43h-3.3M329.3,150.6h3.3M685.5,150.6h-3.3M329.3,148.41h3.3M685.5,148.41h-3.3M329.3,146.62h3.3M685.5,146.62h-3.3M329.3,145.1h3.3M685.5,145.1h-3.3M329.3,143.79h3.3M685.5,143.79h-3.3M329.3,142.64h3.3M685.5,142.64h-3.3M329.3,134.79h3.3M685.5,134.79h-3.3M329.3,130.81h3.3M685.5,130.81h-3.3M329.3,127.98h3.3M685.5,127.98h-3.3M329.3,125.79h3.3M685.5,125.79h-3.3M329.3,124h3.3M685.5,124h-3.3M329.3,122.48h3.3M685.5,122.48h-3.3M329.3,121.17h3.3M685.5,121.17h-3.3M329.3,120.02h3.3M685.5,120.02h-3.3M329.3,112.17h3.3M685.5,112.17h-3.3M329.3,108.19h3.3M685.5,108.19h-3.3M329.3,105.36h3.3M685.5,105.36h-3.3M329.3,103.17h3.3M685.5,103.17h-3.3M329.3,101.38h3.3M685.5,101.38h-3.3M329.3,99.86h3.3M685.5,99.86h-3.3M329.3,98.55h3.3M685.5,98.55h-3.3M329.3,97.4h3.3M685.5,97.4h-3.3M329.3,89.55h3.3M685.5,89.55h-3.3M329.3,85.57h3.3M685.5,85.57h-3.3M329.3,82.74h3.3M685.5,82.74h-3.3M329.3,80.55h3.3M685.5,80.55h-3.3M329.3,78.76h3.3M685.5,78.76h-3.3M329.3,77.24h3.3M685.5,77.24h-3.3M329.3,75.93h3.3M685.5,75.93h-3.3M329.3,74.78h3.3M685.5,74.78h-3.3M329.3,66.93h3.3M685.5,66.93h-3.3M329.3,62.95h3.3M685.5,62.95h-3.3M329.3,60.12h3.3M685.5,60.12h-3.3M329.3,57.93h3.3M685.5,57.93h-3.3M329.3,56.14h3.3M685.5,56.14h-3.3M329.3,54.62h3.3M685.5,54.62h-3.3M329.3,53.31h3.3M685.5,53.31h-3.3M329.3,52.16h3.3M685.5,52.16h-3.3M329.3,44.31h3.3M685.5,44.31h-3.3M329.3,40.33h3.3M685.5,40.33h-3.3M329.3,37.5h3.3M685.5,37.5h-3.3M329.3,35.31h3.3M685.5,35.31h-3.3M329.3,33.52h3.3M685.5,33.52h-3.3M329.3,32h3.3M685.5,32h-3.3M329.3,30.69h3.3M685.5,30.69h-3.3M329.3,29.54h3.3M685.5,29.54h-3.3M329.3,21.69h3.3M685.5,21.69h-3.3M329.3,17.71h3.3M685.5,17.71h-3.3M329.3,14.88h3.3M685.5,14.88h-3.3M329.3,12.69h3.3M685.5,12.69h-3.3M329.3,10.9h3.3M685.5,10.9h-3.3M329.3,9.38h3.3M685.5,9.38h-3.3M329.3,8.07h3.3M685.5,8.07h-3.3M329.3,6.92h3.3M685.5,6.92h-3.3" stroke="#555" stroke-width="0.5" fill="none"/>
<path d="M329.3,254.7h5M685.5,254.7h-5M329.3,232.08h5M685.5,232.08h-5M329.3,209.46h5M685.5,209.46h-5M329.3,186.84h5M685.5,186.84h-5M329.3,164.22h5M685.5,164.22h-5M329.3,141.6h5M685.5,141.6h-5M329.3,118.98h5M685.5,118.98h-5M329.3,96.36h5M685.5,96.36h-5M329.3,73.74h5M685.5,73.74h-5M329.3,51.12h5M685.5,51.12h-5M329.3,28.5h5M685.5,28.5h-5M329.3,5.88h5M685.5,5.88h-5M358.7,268.9v-5M358.7,1.9v5M408.2,268.9v-5M408.2,1.9v5M457.7,268.9v-5M457.7,1.9v5M507.2,268.9v-5M507.2,1.9v5M556.7,268.9v-5M556.7,1.9v5M606.2,268.9v-5M606.2,1.9v5M655.7,268.9v-5M655.7,1.9v5" stroke="#333" stroke-width="0.8" fill="none"/>
<rect x="329.3" y="1.9" width="356.2" height="267" fill="none" stroke="#222" stroke-width="1.1"/>
<path d="M344,19.5H364.1" stroke="#0000ff" stroke-width="1"/>
<circle cx="354" cy="19.5" r="2.35" fill="#5050ff" stroke="#0000ff" stroke-width="0.9"/>
<text x="367.1" y="22.1" class="lg" textLength="89.4" lengthAdjust="spacingAndGlyphs">no preconditioning</text>
<path d="M344,33.3H364.1" stroke="#ff0000" stroke-width="1"/>
<polygon points="354,36.2 351.49,31.85 356.51,31.85" fill="#ff4d4d" stroke="#ff0000" stroke-width="0.6"/>
<text x="367.1" y="35.9" class="lg" textLength="118" lengthAdjust="spacingAndGlyphs">diagonal preconditioning</text>
<path d="M344,47.3H364.1" stroke="#00ff00" stroke-width="1"/>
<polygon points="354,44.4 351.49,48.75 356.51,48.75" fill="#00e000" stroke="#00ff00" stroke-width="0.6"/>
<text x="367.1" y="49.9" class="lg" textLength="92.5" lengthAdjust="spacingAndGlyphs">AS preconditioning</text>
<text x="319.4" y="259.5" text-anchor="end" class="tk" textLength="11.5" lengthAdjust="spacingAndGlyphs">10</text><text x="324.4" y="255.8" text-anchor="end" class="tk" font-size="8.4" style="font-size:8.4px">0</text>
<text x="319.4" y="236.88" text-anchor="end" class="tk" textLength="11.5" lengthAdjust="spacingAndGlyphs">10</text><text x="324.4" y="233.18" text-anchor="end" class="tk" font-size="8.4" style="font-size:8.4px">1</text>
<text x="319.4" y="214.26" text-anchor="end" class="tk" textLength="11.5" lengthAdjust="spacingAndGlyphs">10</text><text x="324.4" y="210.56" text-anchor="end" class="tk" font-size="8.4" style="font-size:8.4px">2</text>
<text x="319.4" y="191.64" text-anchor="end" class="tk" textLength="11.5" lengthAdjust="spacingAndGlyphs">10</text><text x="324.4" y="187.94" text-anchor="end" class="tk" font-size="8.4" style="font-size:8.4px">3</text>
<text x="319.4" y="169.02" text-anchor="end" class="tk" textLength="11.5" lengthAdjust="spacingAndGlyphs">10</text><text x="324.4" y="165.32" text-anchor="end" class="tk" font-size="8.4" style="font-size:8.4px">4</text>
<text x="319.4" y="146.4" text-anchor="end" class="tk" textLength="11.5" lengthAdjust="spacingAndGlyphs">10</text><text x="324.4" y="142.7" text-anchor="end" class="tk" font-size="8.4" style="font-size:8.4px">5</text>
<text x="319.4" y="123.78" text-anchor="end" class="tk" textLength="11.5" lengthAdjust="spacingAndGlyphs">10</text><text x="324.4" y="120.08" text-anchor="end" class="tk" font-size="8.4" style="font-size:8.4px">6</text>
<text x="319.4" y="101.16" text-anchor="end" class="tk" textLength="11.5" lengthAdjust="spacingAndGlyphs">10</text><text x="324.4" y="97.46" text-anchor="end" class="tk" font-size="8.4" style="font-size:8.4px">7</text>
<text x="319.4" y="78.54" text-anchor="end" class="tk" textLength="11.5" lengthAdjust="spacingAndGlyphs">10</text><text x="324.4" y="74.84" text-anchor="end" class="tk" font-size="8.4" style="font-size:8.4px">8</text>
<text x="319.4" y="55.92" text-anchor="end" class="tk" textLength="11.5" lengthAdjust="spacingAndGlyphs">10</text><text x="324.4" y="52.22" text-anchor="end" class="tk" font-size="8.4" style="font-size:8.4px">9</text>
<text x="315.2" y="33.3" text-anchor="end" class="tk" textLength="11.5" lengthAdjust="spacingAndGlyphs">10</text><text x="324.4" y="29.6" text-anchor="end" class="tk" font-size="8.4" style="font-size:8.4px">10</text>
<text x="315.2" y="10.68" text-anchor="end" class="tk" textLength="11.5" lengthAdjust="spacingAndGlyphs">10</text><text x="324.4" y="6.98" text-anchor="end" class="tk" font-size="8.4" style="font-size:8.4px">11</text>
<text x="358.7" y="280.5" text-anchor="middle" class="tk">10</text>
<text x="408.2" y="280.5" text-anchor="middle" class="tk">15</text>
<text x="457.7" y="280.5" text-anchor="middle" class="tk">20</text>
<text x="507.2" y="280.5" text-anchor="middle" class="tk">25</text>
<text x="556.7" y="280.5" text-anchor="middle" class="tk">30</text>
<text x="606.2" y="280.5" text-anchor="middle" class="tk">35</text>
<text x="655.7" y="280.5" text-anchor="middle" class="tk">40</text>
<text x="507.4" y="299.8" text-anchor="middle" class="lb" textLength="138.3" lengthAdjust="spacingAndGlyphs">number of elements <tspan font-style="italic">N</tspan></text>
<text transform="translate(294.6,125.3) rotate(-90)" text-anchor="middle" class="lb" textLength="110" lengthAdjust="spacingAndGlyphs">condition number</text>
<polyline points="355.1,541.2 374.2,524.8 390.5,507.9 404.8,490.9 417.4,492.2 429,494.1 434.3,495.6 444.4,478 457.7,462.1 470,446.1 481,447.3 494.1,449.7 503,450.9 513.8,434.4 523.9,418.4 533,419.9 545.4,404 556.9,404.8 567.1,406.3 578,407.9 586.6,391.4 594.7,392.9 604.5,376.7 614.7,378.2 627,364 638,364.6 646.6,365.5 655.4,352.7" fill="none" stroke="#0000ff" stroke-width="1"/>
<circle cx="355.1" cy="541.2" r="2.35" fill="#5050ff" stroke="#0000ff" stroke-width="0.9"/>
<circle cx="374.2" cy="524.8" r="2.35" fill="#5050ff" stroke="#0000ff" stroke-width="0.9"/>
<circle cx="390.5" cy="507.9" r="2.35" fill="#5050ff" stroke="#0000ff" stroke-width="0.9"/>
<circle cx="404.8" cy="490.9" r="2.35" fill="#5050ff" stroke="#0000ff" stroke-width="0.9"/>
<circle cx="417.4" cy="492.2" r="2.35" fill="#5050ff" stroke="#0000ff" stroke-width="0.9"/>
<circle cx="429" cy="494.1" r="2.35" fill="#5050ff" stroke="#0000ff" stroke-width="0.9"/>
<circle cx="434.3" cy="495.6" r="2.35" fill="#5050ff" stroke="#0000ff" stroke-width="0.9"/>
<circle cx="444.4" cy="478" r="2.35" fill="#5050ff" stroke="#0000ff" stroke-width="0.9"/>
<circle cx="457.7" cy="462.1" r="2.35" fill="#5050ff" stroke="#0000ff" stroke-width="0.9"/>
<circle cx="470" cy="446.1" r="2.35" fill="#5050ff" stroke="#0000ff" stroke-width="0.9"/>
<circle cx="481" cy="447.3" r="2.35" fill="#5050ff" stroke="#0000ff" stroke-width="0.9"/>
<circle cx="494.1" cy="449.7" r="2.35" fill="#5050ff" stroke="#0000ff" stroke-width="0.9"/>
<circle cx="503" cy="450.9" r="2.35" fill="#5050ff" stroke="#0000ff" stroke-width="0.9"/>
<circle cx="513.8" cy="434.4" r="2.35" fill="#5050ff" stroke="#0000ff" stroke-width="0.9"/>
<circle cx="523.9" cy="418.4" r="2.35" fill="#5050ff" stroke="#0000ff" stroke-width="0.9"/>
<circle cx="533" cy="419.9" r="2.35" fill="#5050ff" stroke="#0000ff" stroke-width="0.9"/>
<circle cx="545.4" cy="404" r="2.35" fill="#5050ff" stroke="#0000ff" stroke-width="0.9"/>
<circle cx="556.9" cy="404.8" r="2.35" fill="#5050ff" stroke="#0000ff" stroke-width="0.9"/>
<circle cx="567.1" cy="406.3" r="2.35" fill="#5050ff" stroke="#0000ff" stroke-width="0.9"/>
<circle cx="578" cy="407.9" r="2.35" fill="#5050ff" stroke="#0000ff" stroke-width="0.9"/>
<circle cx="586.6" cy="391.4" r="2.35" fill="#5050ff" stroke="#0000ff" stroke-width="0.9"/>
<circle cx="594.7" cy="392.9" r="2.35" fill="#5050ff" stroke="#0000ff" stroke-width="0.9"/>
<circle cx="604.5" cy="376.7" r="2.35" fill="#5050ff" stroke="#0000ff" stroke-width="0.9"/>
<circle cx="614.7" cy="378.2" r="2.35" fill="#5050ff" stroke="#0000ff" stroke-width="0.9"/>
<circle cx="627" cy="364" r="2.35" fill="#5050ff" stroke="#0000ff" stroke-width="0.9"/>
<circle cx="638" cy="364.6" r="2.35" fill="#5050ff" stroke="#0000ff" stroke-width="0.9"/>
<circle cx="646.6" cy="365.5" r="2.35" fill="#5050ff" stroke="#0000ff" stroke-width="0.9"/>
<circle cx="655.4" cy="352.7" r="2.35" fill="#5050ff" stroke="#0000ff" stroke-width="0.9"/>
<polyline points="355.1,548.7 374.2,545.2 390.5,541.5 404.8,538 417.4,537.5 429,537 434.3,536.8 444.4,534.2 457.7,531.3 470,528.6 481,528 494.1,527.2 503,526.6 513.8,524.5 523.9,522.6 533,521.7 545.4,519.8 556.9,518.7 567.1,518.2 578,517.1 586.6,515.7 594.7,515 604.5,513.5 614.7,512.2 627,510.7 638,509.6 646.6,509.1 655.4,507.5" fill="none" stroke="#ff0000" stroke-width="1"/>
<polygon points="355.1,551.6 352.59,547.25 357.61,547.25" fill="#ff4d4d" stroke="#ff0000" stroke-width="0.6"/>
<polygon points="374.2,548.1 371.69,543.75 376.71,543.75" fill="#ff4d4d" stroke="#ff0000" stroke-width="0.6"/>
<polygon points="390.5,544.4 387.99,540.05 393.01,540.05" fill="#ff4d4d" stroke="#ff0000" stroke-width="0.6"/>
<polygon points="404.8,540.9 402.29,536.55 407.31,536.55" fill="#ff4d4d" stroke="#ff0000" stroke-width="0.6"/>
<polygon points="417.4,540.4 414.89,536.05 419.91,536.05" fill="#ff4d4d" stroke="#ff0000" stroke-width="0.6"/>
<polygon points="429,539.9 426.49,535.55 431.51,535.55" fill="#ff4d4d" stroke="#ff0000" stroke-width="0.6"/>
<polygon points="434.3,539.7 431.79,535.35 436.81,535.35" fill="#ff4d4d" stroke="#ff0000" stroke-width="0.6"/>
<polygon points="444.4,537.1 441.89,532.75 446.91,532.75" fill="#ff4d4d" stroke="#ff0000" stroke-width="0.6"/>
<polygon points="457.7,534.2 455.19,529.85 460.21,529.85" fill="#ff4d4d" stroke="#ff0000" stroke-width="0.6"/>
<polygon points="470,531.5 467.49,527.15 472.51,527.15" fill="#ff4d4d" stroke="#ff0000" stroke-width="0.6"/>
<polygon points="481,530.9 478.49,526.55 483.51,526.55" fill="#ff4d4d" stroke="#ff0000" stroke-width="0.6"/>
<polygon points="494.1,530.1 491.59,525.75 496.61,525.75" fill="#ff4d4d" stroke="#ff0000" stroke-width="0.6"/>
<polygon points="503,529.5 500.49,525.15 505.51,525.15" fill="#ff4d4d" stroke="#ff0000" stroke-width="0.6"/>
<polygon points="513.8,527.4 511.29,523.05 516.31,523.05" fill="#ff4d4d" stroke="#ff0000" stroke-width="0.6"/>
<polygon points="523.9,525.5 521.39,521.15 526.41,521.15" fill="#ff4d4d" stroke="#ff0000" stroke-width="0.6"/>
<polygon points="533,524.6 530.49,520.25 535.51,520.25" fill="#ff4d4d" stroke="#ff0000" stroke-width="0.6"/>
<polygon points="545.4,522.7 542.89,518.35 547.91,518.35" fill="#ff4d4d" stroke="#ff0000" stroke-width="0.6"/>
<polygon points="556.9,521.6 554.39,517.25 559.41,517.25" fill="#ff4d4d" stroke="#ff0000" stroke-width="0.6"/>
<polygon points="567.1,521.1 564.59,516.75 569.61,516.75" fill="#ff4d4d" stroke="#ff0000" stroke-width="0.6"/>
<polygon points="578,520 575.49,515.65 580.51,515.65" fill="#ff4d4d" stroke="#ff0000" stroke-width="0.6"/>
<polygon points="586.6,518.6 584.09,514.25 589.11,514.25" fill="#ff4d4d" stroke="#ff0000" stroke-width="0.6"/>
<polygon points="594.7,517.9 592.19,513.55 597.21,513.55" fill="#ff4d4d" stroke="#ff0000" stroke-width="0.6"/>
<polygon points="604.5,516.4 601.99,512.05 607.01,512.05" fill="#ff4d4d" stroke="#ff0000" stroke-width="0.6"/>
<polygon points="614.7,515.1 612.19,510.75 617.21,510.75" fill="#ff4d4d" stroke="#ff0000" stroke-width="0.6"/>
<polygon points="627,513.6 624.49,509.25 629.51,509.25" fill="#ff4d4d" stroke="#ff0000" stroke-width="0.6"/>
<polygon points="638,512.5 635.49,508.15 640.51,508.15" fill="#ff4d4d" stroke="#ff0000" stroke-width="0.6"/>
<polygon points="646.6,512 644.09,507.65 649.11,507.65" fill="#ff4d4d" stroke="#ff0000" stroke-width="0.6"/>
<polygon points="655.4,510.4 652.89,506.05 657.91,506.05" fill="#ff4d4d" stroke="#ff0000" stroke-width="0.6"/>
<polyline points="355.1,578 374.2,574.5 390.5,572.4 404.8,571.7 417.4,571.5 429,572.4 434.3,572.4 444.4,571.9 457.7,571.6 470,571.1 481,570.8 494.1,570.4 503,569.7 513.8,568.9 523.9,568.9 533,568.7 545.4,567.8 556.9,567.3 567.1,566.5 578,566.2 586.6,565.8 594.7,565.7 604.5,565.5 614.7,565 627,565 638,564.8 646.6,564.8 655.4,564.8" fill="none" stroke="#00ff00" stroke-width="1"/>
<polygon points="355.1,575.1 352.59,579.45 357.61,579.45" fill="#00e000" stroke="#00ff00" stroke-width="0.6"/>
<polygon points="374.2,571.6 371.69,575.95 376.71,575.95" fill="#00e000" stroke="#00ff00" stroke-width="0.6"/>
<polygon points="390.5,569.5 387.99,573.85 393.01,573.85" fill="#00e000" stroke="#00ff00" stroke-width="0.6"/>
<polygon points="404.8,568.8 402.29,573.15 407.31,573.15" fill="#00e000" stroke="#00ff00" stroke-width="0.6"/>
<polygon points="417.4,568.6 414.89,572.95 419.91,572.95" fill="#00e000" stroke="#00ff00" stroke-width="0.6"/>
<polygon points="429,569.5 426.49,573.85 431.51,573.85" fill="#00e000" stroke="#00ff00" stroke-width="0.6"/>
<polygon points="434.3,569.5 431.79,573.85 436.81,573.85" fill="#00e000" stroke="#00ff00" stroke-width="0.6"/>
<polygon points="444.4,569 441.89,573.35 446.91,573.35" fill="#00e000" stroke="#00ff00" stroke-width="0.6"/>
<polygon points="457.7,568.7 455.19,573.05 460.21,573.05" fill="#00e000" stroke="#00ff00" stroke-width="0.6"/>
<polygon points="470,568.2 467.49,572.55 472.51,572.55" fill="#00e000" stroke="#00ff00" stroke-width="0.6"/>
<polygon points="481,567.9 478.49,572.25 483.51,572.25" fill="#00e000" stroke="#00ff00" stroke-width="0.6"/>
<polygon points="494.1,567.5 491.59,571.85 496.61,571.85" fill="#00e000" stroke="#00ff00" stroke-width="0.6"/>
<polygon points="503,566.8 500.49,571.15 505.51,571.15" fill="#00e000" stroke="#00ff00" stroke-width="0.6"/>
<polygon points="513.8,566 511.29,570.35 516.31,570.35" fill="#00e000" stroke="#00ff00" stroke-width="0.6"/>
<polygon points="523.9,566 521.39,570.35 526.41,570.35" fill="#00e000" stroke="#00ff00" stroke-width="0.6"/>
<polygon points="533,565.8 530.49,570.15 535.51,570.15" fill="#00e000" stroke="#00ff00" stroke-width="0.6"/>
<polygon points="545.4,564.9 542.89,569.25 547.91,569.25" fill="#00e000" stroke="#00ff00" stroke-width="0.6"/>
<polygon points="556.9,564.4 554.39,568.75 559.41,568.75" fill="#00e000" stroke="#00ff00" stroke-width="0.6"/>
<polygon points="567.1,563.6 564.59,567.95 569.61,567.95" fill="#00e000" stroke="#00ff00" stroke-width="0.6"/>
<polygon points="578,563.3 575.49,567.65 580.51,567.65" fill="#00e000" stroke="#00ff00" stroke-width="0.6"/>
<polygon points="586.6,562.9 584.09,567.25 589.11,567.25" fill="#00e000" stroke="#00ff00" stroke-width="0.6"/>
<polygon points="594.7,562.8 592.19,567.15 597.21,567.15" fill="#00e000" stroke="#00ff00" stroke-width="0.6"/>
<polygon points="604.5,562.6 601.99,566.95 607.01,566.95" fill="#00e000" stroke="#00ff00" stroke-width="0.6"/>
<polygon points="614.7,562.1 612.19,566.45 617.21,566.45" fill="#00e000" stroke="#00ff00" stroke-width="0.6"/>
<polygon points="627,562.1 624.49,566.45 629.51,566.45" fill="#00e000" stroke="#00ff00" stroke-width="0.6"/>
<polygon points="638,561.9 635.49,566.25 640.51,566.25" fill="#00e000" stroke="#00ff00" stroke-width="0.6"/>
<polygon points="646.6,561.9 644.09,566.25 649.11,566.25" fill="#00e000" stroke="#00ff00" stroke-width="0.6"/>
<polygon points="655.4,561.9 652.89,566.25 657.91,566.25" fill="#00e000" stroke="#00ff00" stroke-width="0.6"/>
<path d="M324.7,600.15h3.3M685.5,600.15h-3.3M324.7,597.4h3.3M685.5,597.4h-3.3M324.7,595.15h3.3M685.5,595.15h-3.3M324.7,593.25h3.3M685.5,593.25h-3.3M324.7,591.6h3.3M685.5,591.6h-3.3M324.7,590.15h3.3M685.5,590.15h-3.3M324.7,580.3h3.3M685.5,580.3h-3.3M324.7,575.3h3.3M685.5,575.3h-3.3M324.7,571.75h3.3M685.5,571.75h-3.3M324.7,569h3.3M685.5,569h-3.3M324.7,566.75h3.3M685.5,566.75h-3.3M324.7,564.85h3.3M685.5,564.85h-3.3M324.7,563.2h3.3M685.5,563.2h-3.3M324.7,561.75h3.3M685.5,561.75h-3.3M324.7,551.9h3.3M685.5,551.9h-3.3M324.7,546.9h3.3M685.5,546.9h-3.3M324.7,543.35h3.3M685.5,543.35h-3.3M324.7,540.6h3.3M685.5,540.6h-3.3M324.7,538.35h3.3M685.5,538.35h-3.3M324.7,536.45h3.3M685.5,536.45h-3.3M324.7,534.8h3.3M685.5,534.8h-3.3M324.7,533.35h3.3M685.5,533.35h-3.3M324.7,523.5h3.3M685.5,523.5h-3.3M324.7,518.5h3.3M685.5,518.5h-3.3M324.7,514.95h3.3M685.5,514.95h-3.3M324.7,512.2h3.3M685.5,512.2h-3.3M324.7,509.95h3.3M685.5,509.95h-3.3M324.7,508.05h3.3M685.5,508.05h-3.3M324.7,506.4h3.3M685.5,506.4h-3.3M324.7,504.95h3.3M685.5,504.95h-3.3M324.7,495.1h3.3M685.5,495.1h-3.3M324.7,490.1h3.3M685.5,490.1h-3.3M324.7,486.55h3.3M685.5,486.55h-3.3M324.7,483.8h3.3M685.5,483.8h-3.3M324.7,481.55h3.3M685.5,481.55h-3.3M324.7,479.65h3.3M685.5,479.65h-3.3M324.7,478h3.3M685.5,478h-3.3M324.7,476.55h3.3M685.5,476.55h-3.3M324.7,466.7h3.3M685.5,466.7h-3.3M324.7,461.7h3.3M685.5,461.7h-3.3M324.7,458.15h3.3M685.5,458.15h-3.3M324.7,455.4h3.3M685.5,455.4h-3.3M324.7,453.15h3.3M685.5,453.15h-3.3M324.7,451.25h3.3M685.5,451.25h-3.3M324.7,449.6h3.3M685.5,449.6h-3.3M324.7,448.15h3.3M685.5,448.15h-3.3M324.7,438.3h3.3M685.5,438.3h-3.3M324.7,433.3h3.3M685.5,433.3h-3.3M324.7,429.75h3.3M685.5,429.75h-3.3M324.7,427h3.3M685.5,427h-3.3M324.7,424.75h3.3M685.5,424.75h-3.3M324.7,422.85h3.3M685.5,422.85h-3.3M324.7,421.2h3.3M685.5,421.2h-3.3M324.7,419.75h3.3M685.5,419.75h-3.3M324.7,409.9h3.3M685.5,409.9h-3.3M324.7,404.9h3.3M685.5,404.9h-3.3M324.7,401.35h3.3M685.5,401.35h-3.3M324.7,398.6h3.3M685.5,398.6h-3.3M324.7,396.35h3.3M685.5,396.35h-3.3M324.7,394.45h3.3M685.5,394.45h-3.3M324.7,392.8h3.3M685.5,392.8h-3.3M324.7,391.35h3.3M685.5,391.35h-3.3M324.7,381.5h3.3M685.5,381.5h-3.3M324.7,376.5h3.3M685.5,376.5h-3.3M324.7,372.95h3.3M685.5,372.95h-3.3M324.7,370.2h3.3M685.5,370.2h-3.3M324.7,367.95h3.3M685.5,367.95h-3.3M324.7,366.05h3.3M685.5,366.05h-3.3M324.7,364.4h3.3M685.5,364.4h-3.3M324.7,362.95h3.3M685.5,362.95h-3.3M324.7,353.1h3.3M685.5,353.1h-3.3M324.7,348.1h3.3M685.5,348.1h-3.3M324.7,344.55h3.3M685.5,344.55h-3.3M324.7,341.8h3.3M685.5,341.8h-3.3M324.7,339.55h3.3M685.5,339.55h-3.3M324.7,337.65h3.3M685.5,337.65h-3.3M324.7,336h3.3M685.5,336h-3.3M324.7,334.55h3.3M685.5,334.55h-3.3M332.22,600.4v-3.3M332.22,330.7v3.3M423.74,600.4v-3.3M423.74,330.7v3.3M470.21,600.4v-3.3M470.21,330.7v3.3M503.18,600.4v-3.3M503.18,330.7v3.3M528.76,600.4v-3.3M528.76,330.7v3.3M549.65,600.4v-3.3M549.65,330.7v3.3M567.32,600.4v-3.3M567.32,330.7v3.3M582.63,600.4v-3.3M582.63,330.7v3.3M596.12,600.4v-3.3M596.12,330.7v3.3" stroke="#555" stroke-width="0.5" fill="none"/>
<path d="M324.7,588.85h5M685.5,588.85h-5M324.7,560.45h5M685.5,560.45h-5M324.7,532.05h5M685.5,532.05h-5M324.7,503.65h5M685.5,503.65h-5M324.7,475.25h5M685.5,475.25h-5M324.7,446.85h5M685.5,446.85h-5M324.7,418.45h5M685.5,418.45h-5M324.7,390.05h5M685.5,390.05h-5M324.7,361.65h5M685.5,361.65h-5M324.7,333.25h5M685.5,333.25h-5M344.3,600.4v-5M344.3,330.7v5M608.2,600.4v-5M608.2,330.7v5" stroke="#333" stroke-width="0.8" fill="none"/>
<rect x="324.7" y="330.7" width="360.8" height="269.7" fill="none" stroke="#222" stroke-width="1.1"/>
<path d="M339.8,348.4H360.3" stroke="#0000ff" stroke-width="1"/>
<circle cx="350" cy="348.4" r="2.35" fill="#5050ff" stroke="#0000ff" stroke-width="0.9"/>
<text x="363.2" y="351" class="lg" textLength="89.4" lengthAdjust="spacingAndGlyphs">no preconditioning</text>
<path d="M339.8,362.4H360.3" stroke="#ff0000" stroke-width="1"/>
<polygon points="350,365.3 347.49,360.95 352.51,360.95" fill="#ff4d4d" stroke="#ff0000" stroke-width="0.6"/>
<text x="363.2" y="365" class="lg" textLength="118" lengthAdjust="spacingAndGlyphs">diagonal preconditioning</text>
<path d="M339.8,376.5H360.3" stroke="#00ff00" stroke-width="1"/>
<polygon points="350,373.6 347.49,377.95 352.51,377.95" fill="#00e000" stroke="#00ff00" stroke-width="0.6"/>
<text x="363.2" y="379.1" class="lg" textLength="92.5" lengthAdjust="spacingAndGlyphs">AS preconditioning</text>
<text x="315.1" y="593.65" text-anchor="end" class="tk" textLength="11.5" lengthAdjust="spacingAndGlyphs">10</text><text x="320.1" y="589.95" text-anchor="end" class="tk" font-size="8.4" style="font-size:8.4px">0</text>
<text x="315.1" y="565.25" text-anchor="end" class="tk" textLength="11.5" lengthAdjust="spacingAndGlyphs">10</text><text x="320.1" y="561.55" text-anchor="end" class="tk" font-size="8.4" style="font-size:8.4px">1</text>
<text x="315.1" y="536.85" text-anchor="end" class="tk" textLength="11.5" lengthAdjust="spacingAndGlyphs">10</text><text x="320.1" y="533.15" text-anchor="end" class="tk" font-size="8.4" style="font-size:8.4px">2</text>
<text x="315.1" y="508.45" text-anchor="end" class="tk" textLength="11.5" lengthAdjust="spacingAndGlyphs">10</text><text x="320.1" y="504.75" text-anchor="end" class="tk" font-size="8.4" style="font-size:8.4px">3</text>
<text x="315.1" y="480.05" text-anchor="end" class="tk" textLength="11.5" lengthAdjust="spacingAndGlyphs">10</text><text x="320.1" y="476.35" text-anchor="end" class="tk" font-size="8.4" style="font-size:8.4px">4</text>
<text x="315.1" y="451.65" text-anchor="end" class="tk" textLength="11.5" lengthAdjust="spacingAndGlyphs">10</text><text x="320.1" y="447.95" text-anchor="end" class="tk" font-size="8.4" style="font-size:8.4px">5</text>
<text x="315.1" y="423.25" text-anchor="end" class="tk" textLength="11.5" lengthAdjust="spacingAndGlyphs">10</text><text x="320.1" y="419.55" text-anchor="end" class="tk" font-size="8.4" style="font-size:8.4px">6</text>
<text x="315.1" y="394.85" text-anchor="end" class="tk" textLength="11.5" lengthAdjust="spacingAndGlyphs">10</text><text x="320.1" y="391.15" text-anchor="end" class="tk" font-size="8.4" style="font-size:8.4px">7</text>
<text x="315.1" y="366.45" text-anchor="end" class="tk" textLength="11.5" lengthAdjust="spacingAndGlyphs">10</text><text x="320.1" y="362.75" text-anchor="end" class="tk" font-size="8.4" style="font-size:8.4px">8</text>
<text x="315.1" y="338.05" text-anchor="end" class="tk" textLength="11.5" lengthAdjust="spacingAndGlyphs">10</text><text x="320.1" y="334.35" text-anchor="end" class="tk" font-size="8.4" style="font-size:8.4px">9</text>
<text x="343.6" y="614.6" text-anchor="middle" class="tk">10<tspan dy="-3.9" style="font-size:8.4px">1</tspan></text>
<text x="607.5" y="614.6" text-anchor="middle" class="tk">10<tspan dy="-3.9" style="font-size:8.4px">2</tspan></text>
<text x="505.6" y="631.2" text-anchor="middle" class="lb" textLength="139.4" lengthAdjust="spacingAndGlyphs">number of elements <tspan font-style="italic">N</tspan></text>
<text transform="translate(294.5,456.2) rotate(-90)" text-anchor="middle" class="lb" textLength="110" lengthAdjust="spacingAndGlyphs">condition number</text>
</svg>
</body></html>
